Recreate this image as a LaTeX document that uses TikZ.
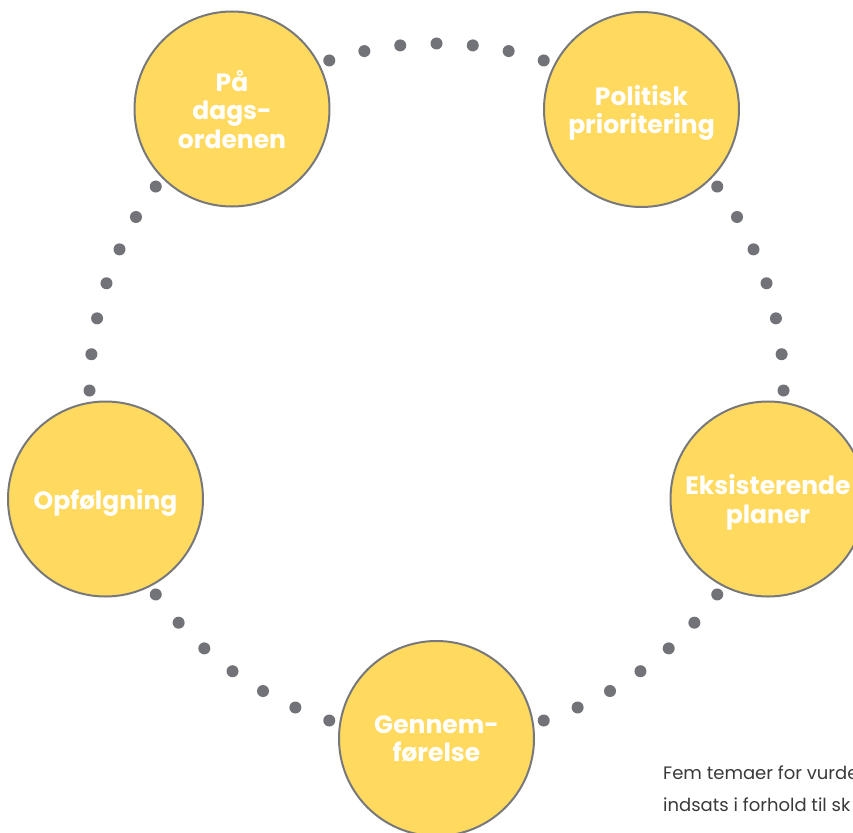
\documentclass[tikz,border=0pt]{standalone}
\usepackage{fontspec}
\setmainfont{Poppins}
\definecolor{bubblefill}{HTML}{FFDA5F}
\definecolor{bubbleline}{HTML}{77787B}
\definecolor{dotgray}{HTML}{727378}
\definecolor{captiongray}{HTML}{3A3A3A}
\tikzset{
  bubble/.style={circle, draw=bubbleline, line width=2pt, fill=bubblefill,
    minimum size=195pt, inner sep=0pt, align=center, text=white, text depth=0pt,
    font=\bfseries\fontsize{25}{28.5}\selectfont},
  dotnode/.style={circle, fill=dotgray, minimum size=12pt, inner sep=0pt},
  caption/.style={anchor=base west, inner sep=0pt, text=captiongray,
    font=\fontsize{18}{32}\selectfont}
}
\begin{document}
\begin{tikzpicture}[x=1pt,y=-1pt]
\useasboundingbox (0,0) rectangle (853,832);
\fill[white] (0,0) rectangle (853,832);
% dots on the big circle
\foreach \a [count=\i] in {108,102,96,90,84,78,72,
                           36,30,24,18,12,6,0,
                           -36,-42,-48,-54,-60,-66,-72,
                           -108,-114,-120,-126,-132,-138,-144,
                           144,150,156,162,168,174,180}{
  \node[dotnode] (d\i) at ({436.5+347*cos(\a)},{390.5-347*sin(\a)}) {};
}
% bubbles
\node[bubble] (dagsorden) at (232,109) {På\\dags-\\ordenen};
\node[bubble] (politisk) at (641.5,109.5) {Politisk\\prioritering};
\node[bubble] (planer) at (768,499) {Eksisterende\\planer};
\node[bubble] (gennem) at (436.5,738.5) {Gennem-\\førelse};
\node[bubble] (opfolg) at (105.5,499) {Opfølgning};
% caption
\node[caption] (cap1) at (663,779) {Fem temaer for vurde};
\node[caption] (cap2) at (663,811) {indsats i forhold til sk};
\end{tikzpicture}
\end{document}
